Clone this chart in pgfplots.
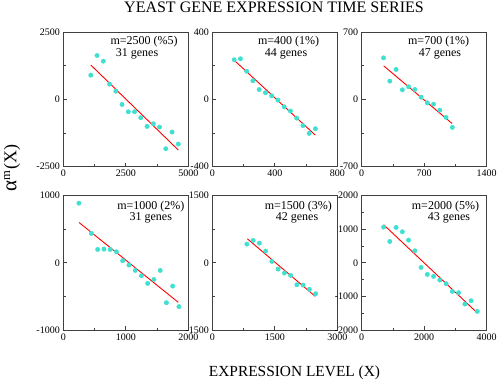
\documentclass[border=0pt]{standalone}
\usepackage{fontspec}
\setmainfont{Liberation Serif}
\usepackage{pgfplots}
\pgfplotsset{compat=1.18}
\definecolor{turq}{RGB}{64,224,208}
\pgfplotsset{panel/.style={scale only axis, width=125pt, height=134.5pt,
  axis line style={black!75, line width=0.9pt},
  tick style={black!75, line width=0.8pt},
  tick align=inside, xtick pos=left, ytick pos=left,
  major tick length=4pt, minor tick length=2.5pt,
  ticklabel style={font=\fontsize{10}{10}\selectfont},
  /pgf/number format/assume math mode=true,
  /pgf/number format/1000 sep={},
  scaled ticks=false},
  pts/.style={only marks, mark=*, mark size=2.2pt, mark options={fill=turq, draw=turq}},
  fit/.style={red, line width=0.9pt, mark=none}}
\tikzset{lbl/.style={font=\fontsize{12}{12}\selectfont, inner sep=0pt}}
\begin{document}
\begin{tikzpicture}
\useasboundingbox (0pt,0pt) rectangle (497pt,381pt);
\node[font=\fontsize{16}{16}\selectfont] at (274pt,373.5pt) {YEAST GENE EXPRESSION TIME SERIES};
\node[font=\fontsize{15.4}{15.4}\selectfont] at (294.5pt,8.5pt) {EXPRESSION LEVEL (X)};
\node[rotate=90, font=\fontsize{18}{18}\selectfont] at (12pt,213pt) {{\fontsize{21}{21}\selectfont α}\textsuperscript{m}(X)};
% Panel 1
\begin{axis}[panel, at={(63.3pt,214.3pt)}, anchor=south west,
  xmin=0, xmax=5000, ymin=-2500, ymax=2500,
  xtick={0,2500,5000}, minor xtick={1250,3750},
  ytick={-2500,0,2500}, minor ytick={-1250,1250}]
\addplot[pts] coordinates {(1100,903)(1350,1634)(1600,1423)(1850,569)(2100,309)(2350,-186)(2600,-458)(2850,-458)(3100,-681)(3350,-1002)(3600,-903)(3850,-1027)(4100,-1832)(4350,-1213)(4600,-1658)};
\addplot[fit] coordinates {(1100,1280)(4600,-1881)};
\node[lbl] at (axis description cs:0.646,0.933) {m=2500 (\%5)};
\node[lbl] at (axis description cs:0.59,0.84) {31 genes};
\end{axis}
% Panel 2
\begin{axis}[panel, at={(212.3pt,214.3pt)}, anchor=south west,
  xmin=0, xmax=800, ymin=-400, ymax=400,
  xtick={0,400,800}, minor xtick={200,600},
  ytick={-400,0,400}, minor ytick={-200,200}]
\addplot[pts] coordinates {(140,236)(180,242)(220,168)(260,111)(300,59)(340,40)(380,22)(420,-4)(460,-44)(500,-69)(540,-111)(580,-156)(620,-202)(660,-174)};
\addplot[fit] coordinates {(139,234)(659,-212)};
\node[lbl] at (axis description cs:0.61,0.93) {m=400 (1\%)};
\node[lbl] at (axis description cs:0.59,0.837) {44 genes};
\end{axis}
% Panel 3
\begin{axis}[panel, at={(361.7pt,214.3pt)}, anchor=south west,
  xmin=0, xmax=1400, ymin=-700, ymax=700,
  xtick={0,700,1400}, minor xtick={350,1050},
  ytick={-700,0,700}, minor ytick={-350,350}]
\addplot[pts] coordinates {(245,433)(315,191)(385,312)(455,100)(525,132)(595,104)(665,24)(735,-35)(805,-49)(875,-111)(945,-187)(1015,-291)};
\addplot[fit] coordinates {(246,350)(1012,-250)};
\node[lbl] at (axis description cs:0.616,0.93) {m=700 (1\%)};
\node[lbl] at (axis description cs:0.626,0.837) {47 genes};
\end{axis}
% Panel 4
\begin{axis}[panel, at={(63.3pt,51pt)}, anchor=south west,
  xmin=0, xmax=2000, ymin=-1000, ymax=1000,
  xtick={0,1000,2000}, minor xtick={500,1500},
  ytick={-1000,0,1000}, minor ytick={-500,500}]
\addplot[pts] coordinates {(250,886)(450,436)(550,198)(650,203)(750,198)(850,163)(950,30)(1050,-35)(1150,-114)(1250,-193)(1350,-307)(1450,-248)(1550,-114)(1650,-594)(1750,-347)(1850,-653)};
\addplot[fit] coordinates {(251,599)(1840,-589)};
\node[lbl] at (axis description cs:0.70,0.918) {m=1000 (2\%)};
\node[lbl] at (axis description cs:0.70,0.834) {31 genes};
\end{axis}
% Panel 5
\begin{axis}[panel, at={(212.3pt,51pt)}, anchor=south west,
  xmin=0, xmax=3000, ymin=-1500, ymax=1500,
  xtick={0,1500,3000}, minor xtick={750,2250},
  ytick={-1500,0,1500}, minor ytick={-750,750}]
\addplot[pts] coordinates {(830,416)(980,498)(1130,438)(1280,260)(1430,30)(1580,-141)(1730,-230)(1880,-282)(2030,-490)(2180,-498)(2330,-594)(2480,-691)};
\addplot[fit] coordinates {(840,535)(2472,-750)};
\node[lbl] at (axis description cs:0.688,0.918) {m=1500 (3\%)};
\node[lbl] at (axis description cs:0.678,0.834) {42 genes};
\end{axis}
% Panel 6
\begin{axis}[panel, at={(361.7pt,51pt)}, anchor=south west,
  xmin=0, xmax=4000, ymin=-2000, ymax=2000,
  xtick={0,2000,4000}, minor xtick={1000,3000},
  ytick={-2000,-1000,0,1000,2000}, minor ytick={-1500,-500,500,1500}]
\addplot[pts] coordinates {(700,1059)(900,634)(1100,1050)(1300,921)(1500,673)(1700,356)(1900,-139)(2100,-347)(2300,-406)(2500,-515)(2700,-624)(2900,-851)(3100,-891)(3300,-1228)(3500,-1129)(3700,-1446)};
\addplot[fit] coordinates {(704,1129)(3691,-1485)};
\node[lbl] at (axis description cs:0.67,0.918) {m=2000 (5\%)};
\node[lbl] at (axis description cs:0.698,0.834) {43 genes};
\end{axis}
\end{tikzpicture}
\end{document}
